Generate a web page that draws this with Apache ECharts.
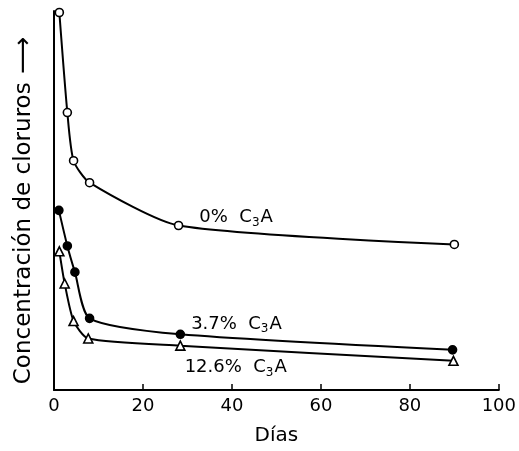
<!DOCTYPE html>
<html>
<head>
<meta charset="utf-8">
<script src="https://cdn.jsdelivr.net/npm/echarts@6/dist/echarts.min.js"></script>
<style>html,body{margin:0;padding:0;background:#fff}#c{width:519px;height:451px}</style>
</head>
<body>
<div id="c"></div>
<script>
// Data (days, relative chloride concentration)
var days0 = [1.2, 3, 4.4, 8, 28, 90];
var conc0 = [99.6, 73.2, 60.5, 54.7, 43.4, 38.4];
var days37 = [1.1, 3, 4.7, 8, 28.4, 89.6];
var conc37 = [47.4, 38.0, 31.1, 18.9, 14.7, 10.6];
var days126 = [1.2, 2.4, 4.4, 7.7, 28.4, 89.8];
var conc126 = [36.6, 28.1, 18.2, 13.6, 11.7, 7.7];
var xTicks = [0, 20, 40, 60, 80, 100];
var seriesNames = ['0%', '3.7%', '12.6%'];
var labelIndex = 4;

function pairs(xs, ys) { return xs.map(function (x, i) { return [x, ys[i]]; }); }

var font = 'DejaVu Sans';
var rich = {
  a: { fontFamily: font, fontSize: 18, color: '#000' },
  s: { fontFamily: font, fontSize: 12, color: '#000', padding: [10, 1, 0, 0] }
};
function lbl(name) { return '{a|' + name + '  C}{s|3}{a|A}'; }

function mkSeries(name, xs, ys, symbol, fill, size, lblOffset) {
  return {
    name: name,
    type: 'line',
    data: pairs(xs, ys).map(function (p, i) {
      var d = { value: p };
      if (i === labelIndex) {
        d.label = { show: true, position: 'right', offset: lblOffset, formatter: lbl(name), rich: rich };
      }
      return d;
    }),
    smooth: 0.22,
    symbol: symbol,
    symbolSize: size,
    showAllSymbol: true,
    clip: false,
    lineStyle: { color: '#000', width: 2 },
    itemStyle: { color: fill, borderColor: '#000', borderWidth: 1.6 },
    label: { show: false },
    z: 3
  };
}

var chart = echarts.init(document.getElementById('c'));
chart.setOption({
  animation: false,
  backgroundColor: '#fff',
  grid: { left: 54, right: 20, top: 11, bottom: 60 },
  xAxis: {
    type: 'value', min: 0, max: 100, interval: 20,
    axisLine: { lineStyle: { color: '#000', width: 2 } },
    axisTick: { inside: true, length: 6, lineStyle: { color: '#000', width: 1.5 } },
    splitLine: { show: false },
    axisLabel: { color: '#000', fontFamily: font, fontSize: 18, margin: 7,
      formatter: function (v) { return xTicks.indexOf(v) >= 0 ? String(v) : ''; } },
    name: 'Días', nameLocation: 'middle', nameGap: 36,
    nameTextStyle: { color: '#000', fontFamily: font, fontSize: 20 }
  },
  yAxis: {
    type: 'value', min: 0, max: 100,
    axisLine: { show: true, lineStyle: { color: '#000', width: 2 } },
    axisTick: { show: false },
    axisLabel: { show: false },
    splitLine: { show: false },
    name: '{t|Concentración de cloruros}{r| \u27F6}', nameLocation: 'middle', nameGap: 17, nameRotate: 90,
    nameTextStyle: {
      color: '#000', padding: [0, 20, 0, 0],
      rich: {
        t: { fontFamily: font, fontSize: 23, color: '#000' },
        r: { fontFamily: font, fontSize: 26, color: '#000' }
      }
    }
  },
  series: [
    mkSeries(seriesNames[0], days0, conc0, 'circle', '#fff', 8, [11, -8]),
    mkSeries(seriesNames[1], days37, conc37, 'circle', '#000', 8, [1, -10]),
    mkSeries(seriesNames[2], days126, conc126, 'triangle', '#fff', 9, [-6, 22])
  ]
});
</script>
</body>
</html>
